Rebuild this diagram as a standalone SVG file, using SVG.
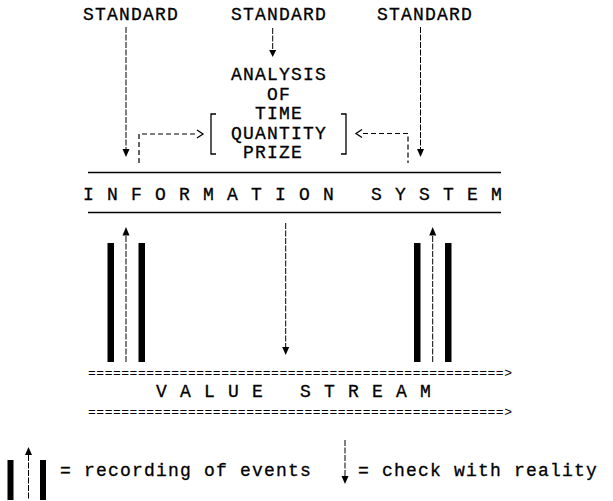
<svg xmlns="http://www.w3.org/2000/svg" width="613" height="501" viewBox="0 0 613 501">
<defs>
<style>
.t{font-family:"Liberation Mono","Courier New",monospace;font-size:18px;letter-spacing:1.2px;fill:#000;stroke:#000;stroke-width:0.3}
.eq{font-family:"Liberation Mono","Courier New",monospace;font-size:13px;fill:#000}
.d{stroke:#000;stroke-width:1;fill:none;stroke-dasharray:6 1.5}
.dl{stroke:#000;stroke-width:1.2;fill:none;stroke-dasharray:5 3}
.s{stroke:#000;stroke-width:1.3;fill:none}
.bar{fill:#000}
.ah{fill:#000}
</style>
</defs>
<rect width="613" height="501" fill="#fff"/>
<g id="standard-left"><text class="t" x="83" y="20">STANDARD</text></g>
<g id="standard-mid"><text class="t" x="231" y="20">STANDARD</text></g>
<g id="standard-right"><text class="t" x="377" y="20">STANDARD</text></g>
<g id="analysis">
<text class="t" x="231" y="80">ANALYSIS</text>
<text class="t" x="267" y="99.5">OF</text>
<text class="t" x="255" y="119">TIME</text>
<text class="t" x="231" y="138.5">QUANTITY</text>
<text class="t" x="243" y="158">PRIZE</text>
<path class="s" d="M216,114 H211 V154 H216"/>
<path class="s" d="M341,114 H346 V154 H341"/>
</g>
<g id="information-system">
<line class="s" x1="88" y1="172.5" x2="501" y2="172.5"/>
<text class="t" x="83" y="200">I N F O R M A T I O N</text>
<text class="t" x="371" y="200">S Y S T E M</text>
<line class="s" x1="88" y1="212.5" x2="501" y2="212.5"/>
</g>
<g id="value-stream">
<text class="eq" x="88" y="377" textLength="424" lengthAdjust="spacing">==================================================&gt;</text>
<text class="t" x="156" y="397">V A L U E</text>
<text class="t" x="300" y="397">S T R E A M</text>
<text class="eq" x="88" y="416" textLength="424" lengthAdjust="spacing">==================================================&gt;</text>
</g>
<g id="recording-left">
<rect class="bar" x="107.5" y="243" width="6.5" height="119"/>
<rect class="bar" x="138.5" y="243" width="6.5" height="119"/>
</g>
<g id="recording-right">
<rect class="bar" x="414" y="243" width="6.5" height="119"/>
<rect class="bar" x="445" y="243" width="6.5" height="119"/>
</g>
<g id="legend">
<rect class="bar" x="7.5" y="460" width="6" height="40"/>
<rect class="bar" x="40" y="460" width="6" height="40"/>
<line class="d" x1="28.5" y1="455" x2="28.5" y2="500"/>
<path class="ah" d="M28.5,447 L32,455 L25,455 Z"/>
<text class="t" x="60" y="476">= recording of events</text>
<line class="d" x1="345" y1="440" x2="345" y2="476"/>
<path class="ah" d="M345,484 L341.5,476 L348.5,476 Z"/>
<text class="t" x="358" y="476">= check with reality</text>
</g>
<g id="connectors">
<line class="d" x1="126" y1="27" x2="126" y2="149"/>
<path class="ah" d="M126,157 L122.5,149 L129.5,149 Z"/>
<line class="d" x1="272.7" y1="28" x2="272.7" y2="50"/>
<path class="ah" d="M272.7,57 L269.2,50 L276.2,50 Z"/>
<line class="d" x1="420.5" y1="27" x2="420.5" y2="149"/>
<path class="ah" d="M420.5,157 L417,149 L424,149 Z"/>
<path class="dl" d="M139,163 V134 H196"/>
<path class="s" d="M197,130 L203,134 L197,138"/>
<path class="dl" d="M363,133.5 H408 V163"/>
<path class="s" d="M362,129.5 L356,133.5 L362,137.5"/>
<line class="d" x1="126" y1="236" x2="126" y2="362"/>
<path class="ah" d="M126,227 L129.5,235.5 L122.5,235.5 Z"/>
<line class="d" x1="432.7" y1="236" x2="432.7" y2="362"/>
<path class="ah" d="M432.7,227 L436.2,235.5 L429.2,235.5 Z"/>
<line class="d" x1="285.7" y1="223" x2="285.7" y2="347"/>
<path class="ah" d="M285.7,355 L282.2,347 L289.2,347 Z"/>
</g>
</svg>
